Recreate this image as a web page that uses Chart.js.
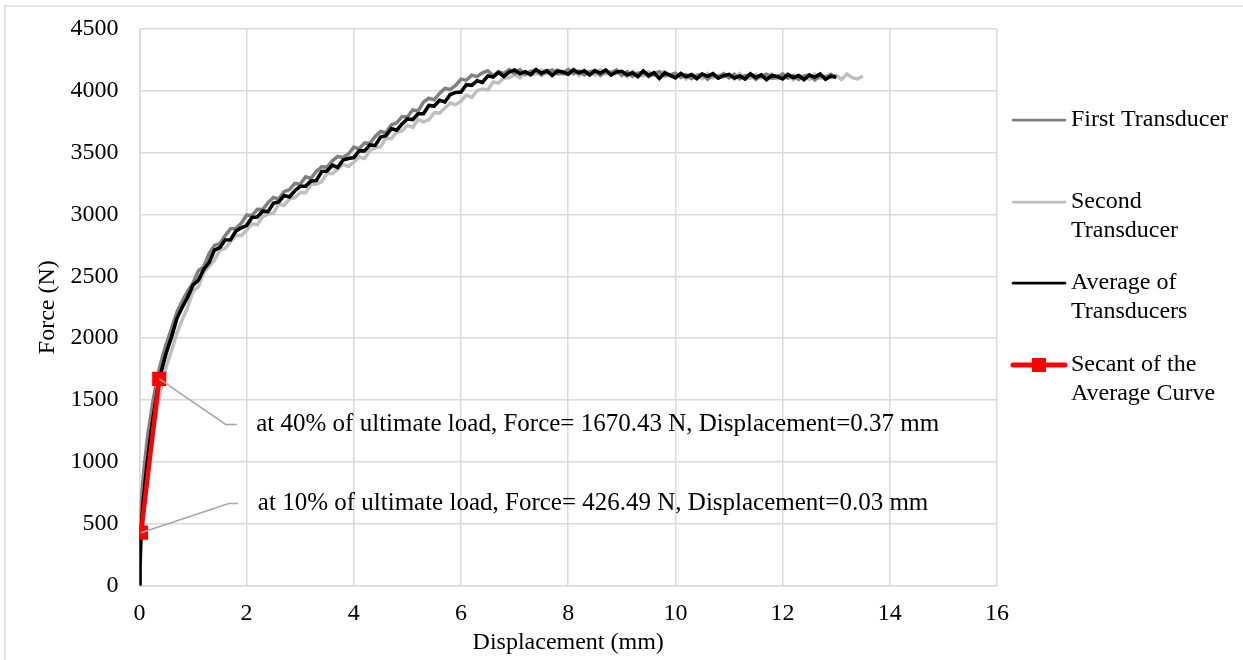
<!DOCTYPE html>
<html>
<head>
<meta charset="utf-8">
<script src="https://cdn.jsdelivr.net/npm/chart.js@4.4.0/dist/chart.umd.min.js"></script>
<style>
  html, body { margin: 0; padding: 0; background: #fff; }
</style>
</head>
<body>
<canvas id="myChart" width="1243" height="660"></canvas>
<script>
// displacement (mm), shared by the three transducer curves
var displacement = [
  0, 0.01, 0.02, 0.03, 0.05, 0.08, 0.12, 0.16, 0.2, 0.25, 0.3, 0.37, 0.45, 0.5, 0.6, 0.7, 0.8, 0.9,
  1.0, 1.1, 1.2, 1.3, 1.4, 1.5, 1.6, 1.7, 1.8, 1.9,
  2.0, 2.1, 2.2, 2.3, 2.4, 2.5, 2.6, 2.7, 2.8, 2.9,
  3.0, 3.1, 3.2, 3.3, 3.4, 3.5, 3.6, 3.7, 3.8, 3.9,
  4.0, 4.1, 4.2, 4.3, 4.4, 4.5, 4.6, 4.7, 4.8, 4.9,
  5.0, 5.1, 5.2, 5.3, 5.4, 5.5, 5.6, 5.7, 5.8, 5.9,
  6.0, 6.1, 6.2, 6.3, 6.4, 6.5, 6.6, 6.7, 6.8, 6.9,
  7.0, 7.1, 7.2, 7.3, 7.4, 7.5, 7.6, 7.7, 7.8, 7.9,
  8.0, 8.1, 8.2, 8.3, 8.4, 8.5, 8.6, 8.7, 8.8, 8.9,
  9.0, 9.1, 9.2, 9.3, 9.4, 9.5, 9.6, 9.7, 9.8, 9.9,
  10.0, 10.1, 10.2, 10.3, 10.4, 10.5, 10.6, 10.7, 10.8, 10.9,
  11.0, 11.1, 11.2, 11.3, 11.4, 11.5, 11.6, 11.7, 11.8, 11.9,
  12.0, 12.1, 12.2, 12.3, 12.4, 12.5, 12.6, 12.7, 12.8, 12.9,
  13.0, 13.1, 13.2, 13.3, 13.4, 13.5
];

// force (N)
var firstForce = [
  0, 250, 450, 600, 760, 920, 1080, 1230, 1340, 1480, 1600, 1750, 1880, 1950, 2080, 2210, 2300, 2380,
  2445, 2545, 2577, 2683, 2750, 2763, 2829, 2884, 2886, 2929,
  2995, 2991, 3042, 3040, 3096, 3137, 3126, 3184, 3201, 3251,
  3245, 3305, 3292, 3348, 3385, 3383, 3434, 3469, 3461, 3489,
  3545, 3531, 3577, 3575, 3631, 3672, 3661, 3724, 3741, 3791,
  3790, 3845, 3837, 3908, 3940, 3928, 3979, 4019, 4011, 4044,
  4095, 4086, 4127, 4115, 4146, 4162, 4121, 4154, 4141, 4171,
  4140, 4170, 4132, 4158, 4165, 4128, 4154, 4169, 4136, 4144,
  4173, 4139, 4160, 4128, 4154, 4165, 4124, 4157, 4144, 4169,
  4125, 4155, 4117, 4143, 4150, 4113, 4139, 4154, 4121, 4129,
  4143, 4109, 4130, 4098, 4124, 4135, 4094, 4127, 4114, 4139,
  4105, 4135, 4097, 4123, 4130, 4093, 4119, 4134, 4101, 4109,
  4137, 4103, 4124, 4092, 4118, 4129, 4088, 4121, 4108, 4133,
  4105
];

var secondForce = [
  0, 100, 200, 300, 430, 580, 760, 900, 1040, 1200, 1340, 1520, 1680, 1770, 1900, 2040, 2150, 2250,
  2377, 2415, 2529, 2579, 2630, 2713, 2725, 2781, 2831, 2828,
  2872, 2925, 2917, 2981, 3004, 3011, 3082, 3073, 3124, 3135,
  3177, 3175, 3244, 3244, 3265, 3333, 3330, 3366, 3406, 3388,
  3422, 3465, 3452, 3516, 3539, 3546, 3617, 3613, 3664, 3675,
  3722, 3705, 3769, 3749, 3765, 3823, 3820, 3861, 3901, 3888,
  3917, 3965, 3947, 4001, 4014, 4006, 4072, 4063, 4104, 4105,
  4132, 4105, 4154, 4134, 4135, 4168, 4140, 4156, 4171, 4133,
  4140, 4163, 4125, 4159, 4152, 4129, 4170, 4136, 4157, 4143,
  4147, 4115, 4159, 4129, 4120, 4153, 4125, 4141, 4156, 4118,
  4110, 4133, 4095, 4129, 4122, 4099, 4140, 4106, 4127, 4113,
  4127, 4095, 4139, 4109, 4100, 4133, 4105, 4121, 4136, 4098,
  4104, 4127, 4089, 4123, 4116, 4093, 4134, 4100, 4121, 4107,
  4124, 4092, 4136, 4106, 4097, 4118
];

var averageForce = [
  0, 150, 300, 426, 560, 720, 890, 1040, 1180, 1340, 1480, 1670, 1800, 1880, 2010, 2160, 2250, 2330,
  2428, 2468, 2555, 2610, 2712, 2732, 2794, 2795, 2865, 2892,
  2910, 2975, 2979, 3027, 3023, 3091, 3102, 3154, 3142, 3192,
  3228, 3228, 3270, 3275, 3347, 3352, 3399, 3380, 3440, 3452,
  3460, 3515, 3514, 3562, 3558, 3626, 3637, 3694, 3682, 3732,
  3773, 3768, 3815, 3815, 3882, 3877, 3924, 3910, 3970, 3987,
  3990, 4050, 4044, 4082, 4068, 4121, 4112, 4149, 4117, 4152,
  4168, 4138, 4155, 4130, 4172, 4142, 4164, 4125, 4160, 4152,
  4135, 4170, 4144, 4162, 4128, 4161, 4142, 4169, 4127, 4152,
  4158, 4128, 4145, 4115, 4160, 4125, 4146, 4100, 4145, 4127,
  4105, 4140, 4114, 4132, 4098, 4136, 4117, 4139, 4102, 4122,
  4133, 4103, 4120, 4095, 4137, 4107, 4129, 4090, 4125, 4117,
  4097, 4132, 4106, 4124, 4090, 4128, 4109, 4136, 4094, 4119,
  4110
];

// secant at 10% and 40% of ultimate load
var secantDisp = [0.03, 0.37];
var secantForce = [426.49, 1670.43];

var seriesNames = ['First Transducer', 'Second Transducer', 'Average of Transducers', 'Secant of the Average Curve'];
var legendLines = [['First Transducer'], ['Second', 'Transducer'], ['Average of', 'Transducers'], ['Secant of the', 'Average Curve']];
var noteTexts = [
  'at 10% of ultimate load, Force= 426.49 N, Displacement=0.03 mm',
  'at 40% of ultimate load, Force= 1670.43 N, Displacement=0.37 mm'
];

var FONT = '"Liberation Serif", "Times New Roman", serif';

function toPoints(xs, ys) {
  var pts = [];
  for (var i = 0; i < ys.length; i++) {
    pts.push({x: xs[i], y: ys[i]});
  }
  return pts;
}

// leader lines and labels, placed in data units
var notes = [
  {elbowX: 1.67, elbowY: 662, endX: 1.84, textX: 2.21},
  {elbowX: 1.61, elbowY: 1302, endX: 1.82, textX: 2.18}
];

var notesPlugin = {
  id: 'notes',
  afterDatasetsDraw: function(chart) {
    var ctx = chart.ctx;
    var xs = chart.scales.x, ys = chart.scales.y;
    ctx.save();
    ctx.strokeStyle = '#a6a6a6';
    ctx.lineWidth = 1.5;
    ctx.font = '25px ' + FONT;
    ctx.fillStyle = '#000';
    ctx.textBaseline = 'middle';
    ctx.textAlign = 'left';
    for (var i = 0; i < notes.length; i++) {
      var n = notes[i];
      ctx.beginPath();
      ctx.moveTo(xs.getPixelForValue(secantDisp[i]), ys.getPixelForValue(secantForce[i]));
      ctx.lineTo(xs.getPixelForValue(n.elbowX), ys.getPixelForValue(n.elbowY));
      ctx.lineTo(xs.getPixelForValue(n.endX), ys.getPixelForValue(n.elbowY));
      ctx.stroke();
      ctx.fillText(noteTexts[i], xs.getPixelForValue(n.textX), ys.getPixelForValue(n.elbowY));
    }
    ctx.restore();
  }
};

var legendPlugin = {
  id: 'sideLegend',
  afterDraw: function(chart) {
    var ctx = chart.ctx;
    var sets = chart.data.datasets;
    var lineX0 = 1013, lineX1 = 1065, textX = 1071;
    var rowY = [120, 202, 283, 365];
    ctx.save();
    ctx.font = '24px ' + FONT;
    ctx.fillStyle = '#000';
    ctx.textBaseline = 'middle';
    for (var i = 0; i < sets.length; i++) {
      var ds = sets[i];
      ctx.strokeStyle = ds.borderColor;
      ctx.lineWidth = i == 3 ? 5 : 2.75;
      ctx.lineCap = 'round';
      ctx.beginPath();
      ctx.moveTo(lineX0, rowY[i]);
      ctx.lineTo(lineX1, rowY[i]);
      ctx.stroke();
      if (i == 3) {
        ctx.fillStyle = ds.pointBackgroundColor;
        ctx.fillRect((lineX0 + lineX1) / 2 - 7, rowY[i] - 7, 14, 14);
        ctx.fillStyle = '#000';
      }
      for (var k = 0; k < legendLines[i].length; k++) {
        ctx.fillText(legendLines[i][k], textX, rowY[i] + k * 28.5);
      }
    }
    ctx.restore();
  }
};

var framePlugin = {
  id: 'frame',
  beforeDraw: function(chart) {
    var ctx = chart.ctx;
    ctx.save();
    ctx.fillStyle = '#fff';
    ctx.fillRect(0, 0, chart.width, chart.height);
    ctx.strokeStyle = '#d9d9d9';
    ctx.lineWidth = 1.5;
    ctx.strokeRect(5, 6, chart.width + 10, chart.height + 10);
    ctx.restore();
  }
};

function plainTick(value) {
  return String(value);
}

var ctx = document.getElementById('myChart').getContext('2d');
var myChart = new Chart(ctx, {
  type: 'scatter',
  data: {
    datasets: [{
      label: seriesNames[0],
      data: toPoints(displacement, firstForce),
      showLine: true,
      borderColor: '#808080',
      borderWidth: 3.5,
      pointRadius: 0,
      order: 2
    },
    {
      label: seriesNames[1],
      data: toPoints(displacement, secondForce),
      showLine: true,
      borderColor: '#bfbfbf',
      borderWidth: 3.5,
      pointRadius: 0,
      order: 3
    },
    {
      label: seriesNames[2],
      data: toPoints(displacement, averageForce),
      showLine: true,
      borderColor: '#000000',
      borderWidth: 3.6,
      pointRadius: 0,
      order: 1
    },
    {
      label: seriesNames[3],
      data: toPoints(secantDisp, secantForce),
      showLine: true,
      borderColor: '#ff0000',
      borderWidth: 4.5,
      pointStyle: 'rect',
      pointRadius: 10,
      pointBackgroundColor: '#ff0000',
      pointBorderColor: '#ff0000',
      pointBorderWidth: 0,
      order: 0
    }]
  },
  options: {
    responsive: false,
    animation: false,
    layout: {
      padding: {left: 33.6, right: 246, top: 29, bottom: 3}
    },
    plugins: {
      legend: {display: false},
      tooltip: {enabled: false}
    },
    scales: {
      x: {
        type: 'linear',
        min: 0,
        max: 16,
        ticks: {
          stepSize: 2,
          padding: 14,
          color: '#000',
          font: {family: FONT, size: 24},
          callback: plainTick
        },
        grid: {color: '#d9d9d9', lineWidth: 1.5, drawTicks: false},
        border: {color: '#d9d9d9', width: 1.5},
        title: {
          display: true,
          text: 'Displacement (mm)',
          color: '#000',
          font: {family: FONT, size: 24},
          padding: {top: -14, bottom: 0}
        }
      },
      y: {
        type: 'linear',
        min: 0,
        max: 4500,
        ticks: {
          stepSize: 500,
          padding: 6,
          color: '#000',
          font: {family: FONT, size: 24},
          callback: plainTick
        },
        grid: {color: '#d9d9d9', lineWidth: 1.5, drawTicks: true, tickLength: 15, tickColor: 'rgba(0,0,0,0)'},
        border: {color: '#d9d9d9', width: 1.5},
        title: {
          display: true,
          text: 'Force (N)',
          color: '#000',
          font: {family: FONT, size: 24},
          padding: {top: 0, bottom: 2}
        }
      }
    }
  },
  plugins: [framePlugin, notesPlugin, legendPlugin]
});
</script>
</body>
</html>
